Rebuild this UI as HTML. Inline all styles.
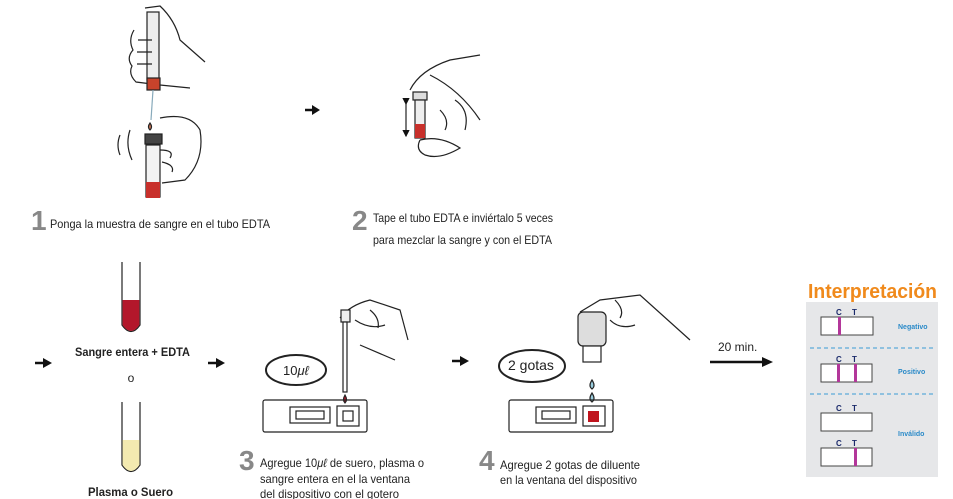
<!DOCTYPE html>
<html><head><meta charset="utf-8"><style>
body{margin:0;width:953px;height:499px;background:#fff;overflow:hidden;font-family:"Liberation Sans",sans-serif}
svg{position:absolute;left:0;top:0}
</style></head><body>
<svg width="953" height="499" viewBox="0 0 953 499" font-family="Liberation Sans, sans-serif">
<defs><marker id="ah" markerWidth="6" markerHeight="6" refX="5" refY="3" orient="auto"><path d="M0,0L6,3L0,6z" fill="#111"/></marker></defs>
<g fill="none" stroke="#222" stroke-width="1.2">
<!-- step1 syringe & hands -->
<rect x="147" y="12" width="12" height="68" fill="#eee"/>
<path d="M145 8 L160 6 Q175 20 180 40 L205 62 M134 30 Q128 40 133 50 Q126 58 132 66 Q128 74 136 82 L160 85 L190 88 M138 40 L152 40 M137 52 L152 52 M137 64 L152 64"/>
<rect x="147" y="78" width="13" height="12" fill="#c8432b"/>
<line x1="153" y1="90" x2="151" y2="120" stroke="#8ab"/>
<path d="M150 123 q3 4 0 7 q-3 -3 0 -7z" fill="#d37a5a"/>
<path d="M160 118 Q190 112 200 130 Q205 160 185 180 L162 183 M160 150 Q175 150 170 158 M162 162 Q175 165 172 172"/>
<path d="M120 135 Q116 145 120 155 M130 130 Q125 145 132 160"/>
<rect x="145" y="134" width="17" height="10" fill="#444"/>
<rect x="146" y="145" width="14" height="52" fill="#f3f3f3"/>
<rect x="146" y="182" width="14" height="16" fill="#c8302b" stroke="none"/>
<!-- step2 -->
<path d="M410 90 Q420 70 450 60 L480 55 M430 75 Q460 90 480 120 M420 140 Q440 135 460 148 Q440 160 425 155 Q415 150 420 140 M455 100 Q470 110 465 130 M440 110 Q450 120 445 130"/>
<rect x="413" y="92" width="14" height="8" fill="#ddd"/>
<rect x="415" y="100" width="10" height="38" fill="#eee"/>
<rect x="415" y="124" width="10" height="14" fill="#c8302b" stroke="none"/>
<line x1="406" y1="104" x2="406" y2="136" marker-end="url(#ah)" marker-start="url(#ah)"/>
<!-- tubes -->
<path d="M122 262 L122 325 Q131 338 140 325 L140 262"/>
<path d="M122.6 300 L139.4 300 L139.4 325 Q131 337 122.6 325z" fill="#b3172b" stroke="none"/>
<path d="M122 402 L122 465 Q131 478 140 465 L140 402"/>
<path d="M122.6 440 L139.4 440 L139.4 465 Q131 477 122.6 465z" fill="#f3eab0" stroke="none"/>
<!-- step3 -->
<ellipse cx="296" cy="370" rx="30" ry="15" stroke-width="2"/>
<path d="M340 318 Q350 305 370 300 L400 310 L408 340 M355 320 Q370 330 385 325 M360 345 L395 360 M370 310 Q380 318 378 328"/>
<rect x="341" y="310" width="9" height="12" fill="#eee"/>
<rect x="343" y="322" width="4" height="70" fill="#fff"/>
<path d="M345 395 q3 5 0 8 q-3 -3 0 -8z" fill="#b3172b"/>
<rect x="263" y="400" width="104" height="32" rx="2"/>
<rect x="290" y="407" width="40" height="16"/><rect x="296" y="411" width="28" height="8"/>
<rect x="337" y="406" width="22" height="20"/><rect x="343" y="411" width="10" height="10"/>
<!-- step4 -->
<ellipse cx="532" cy="366" rx="33" ry="16" stroke-width="2"/>
<path d="M580 312 L600 300 L640 295 L690 340 M610 320 Q620 330 635 325 M615 300 Q625 310 620 318"/>
<rect x="578" y="312" width="28" height="34" rx="5" fill="#ddd"/>
<rect x="583" y="346" width="18" height="16" fill="#fff"/>
<path d="M592 380 q4 6 0 9 q-4 -3 0 -9z M592 393 q4 6 0 9 q-4 -3 0 -9z" fill="#9cd"/>
<rect x="509" y="400" width="104" height="32" rx="2"/>
<rect x="536" y="407" width="40" height="16"/><rect x="542" y="411" width="28" height="8"/>
<rect x="583" y="406" width="22" height="20"/><rect x="588" y="411" width="11" height="11" fill="#c0141d" stroke="none"/>
</g>
<!-- arrows -->
<g stroke="#111" stroke-width="2.5" fill="#111">
<line x1="305" y1="110" x2="313" y2="110"/><path d="M312 105 L320 110 L312 115z" stroke="none"/>
<line x1="35" y1="363" x2="44" y2="363"/><path d="M43 358 L52 363 L43 368z" stroke="none"/>
<line x1="208" y1="363" x2="217" y2="363"/><path d="M216 358 L225 363 L216 368z" stroke="none"/>
<line x1="452" y1="361" x2="461" y2="361"/><path d="M460 356 L469 361 L460 366z" stroke="none"/>
<line x1="710" y1="362" x2="764" y2="362"/><path d="M762 357 L773 362 L762 367z" stroke="none"/>
</g>
<g fill="#222">
<text x="31" y="230" font-size="28" font-weight="bold" fill="#888">1</text>
<text x="50" y="228" font-size="12" textLength="220" lengthAdjust="spacingAndGlyphs">Ponga la muestra de sangre en el tubo EDTA</text>
<text x="352" y="230" font-size="28" font-weight="bold" fill="#888">2</text>
<text x="373" y="222" font-size="12" textLength="180" lengthAdjust="spacingAndGlyphs">Tape el tubo EDTA e inviértalo 5 veces</text>
<text x="373" y="244" font-size="12" textLength="179" lengthAdjust="spacingAndGlyphs">para mezclar la sangre y con el EDTA</text>
<text x="75" y="356" font-size="11.5" font-weight="bold" textLength="115" lengthAdjust="spacingAndGlyphs">Sangre entera + EDTA</text>
<text x="131" y="382" font-size="12" text-anchor="middle">o</text>
<text x="88" y="496" font-size="11.5" font-weight="bold" textLength="85" lengthAdjust="spacingAndGlyphs">Plasma o Suero</text>
<text x="283" y="375" font-size="13">10<tspan font-style="italic">μℓ</tspan></text>
<text x="508" y="370" font-size="14">2 gotas</text>
<text x="718" y="351" font-size="12">20 min.</text>
<text x="239" y="470" font-size="28" font-weight="bold" fill="#888">3</text>
<text x="260" y="467" font-size="12" textLength="164" lengthAdjust="spacingAndGlyphs">Agregue 10<tspan font-style="italic">μℓ</tspan> de suero, plasma o</text>
<text x="260" y="483" font-size="12" textLength="150" lengthAdjust="spacingAndGlyphs">sangre entera en el la ventana</text>
<text x="260" y="498" font-size="12" textLength="139" lengthAdjust="spacingAndGlyphs">del dispositivo con el gotero</text>
<text x="479" y="470" font-size="28" font-weight="bold" fill="#888">4</text>
<text x="500" y="469" font-size="12" textLength="140" lengthAdjust="spacingAndGlyphs">Agregue 2 gotas de diluente</text>
<text x="500" y="484" font-size="12" textLength="137" lengthAdjust="spacingAndGlyphs">en la ventana del dispositivo</text>
</g>
<!-- interpretation -->
<text x="808" y="298" font-size="20" font-weight="bold" fill="#f08a1c" textLength="129" lengthAdjust="spacingAndGlyphs">Interpretación</text>
<rect x="806" y="302" width="132" height="175" fill="#e6e7e9"/>
<g stroke="#3a9bd5" stroke-width="1" stroke-dasharray="4,3"><line x1="810" y1="348" x2="933" y2="348"/><line x1="810" y1="394" x2="933" y2="394"/></g>
<g stroke="#444" fill="#fff" stroke-width="1">
<rect x="821" y="317" width="52" height="18"/><rect x="821" y="364" width="51" height="18"/>
<rect x="821" y="413" width="51" height="18"/><rect x="821" y="448" width="51" height="18"/>
</g>
<g fill="#b3379a">
<rect x="838" y="317" width="3" height="18"/>
<rect x="837" y="364" width="3" height="18"/><rect x="854" y="364" width="3" height="18"/>
<rect x="854" y="448" width="3" height="18"/>
</g>
<g fill="#1a2a6a" font-size="8" font-weight="bold">
<text x="836" y="315">C</text><text x="852" y="315">T</text>
<text x="836" y="362">C</text><text x="852" y="362">T</text>
<text x="836" y="411">C</text><text x="852" y="411">T</text>
<text x="836" y="446">C</text><text x="852" y="446">T</text>
</g>
<g fill="#2a8ac8" font-size="7" font-weight="bold">
<text x="898" y="329">Negativo</text><text x="898" y="374">Positivo</text><text x="898" y="436">Inválido</text>
</g>
</svg>
</body></html>
